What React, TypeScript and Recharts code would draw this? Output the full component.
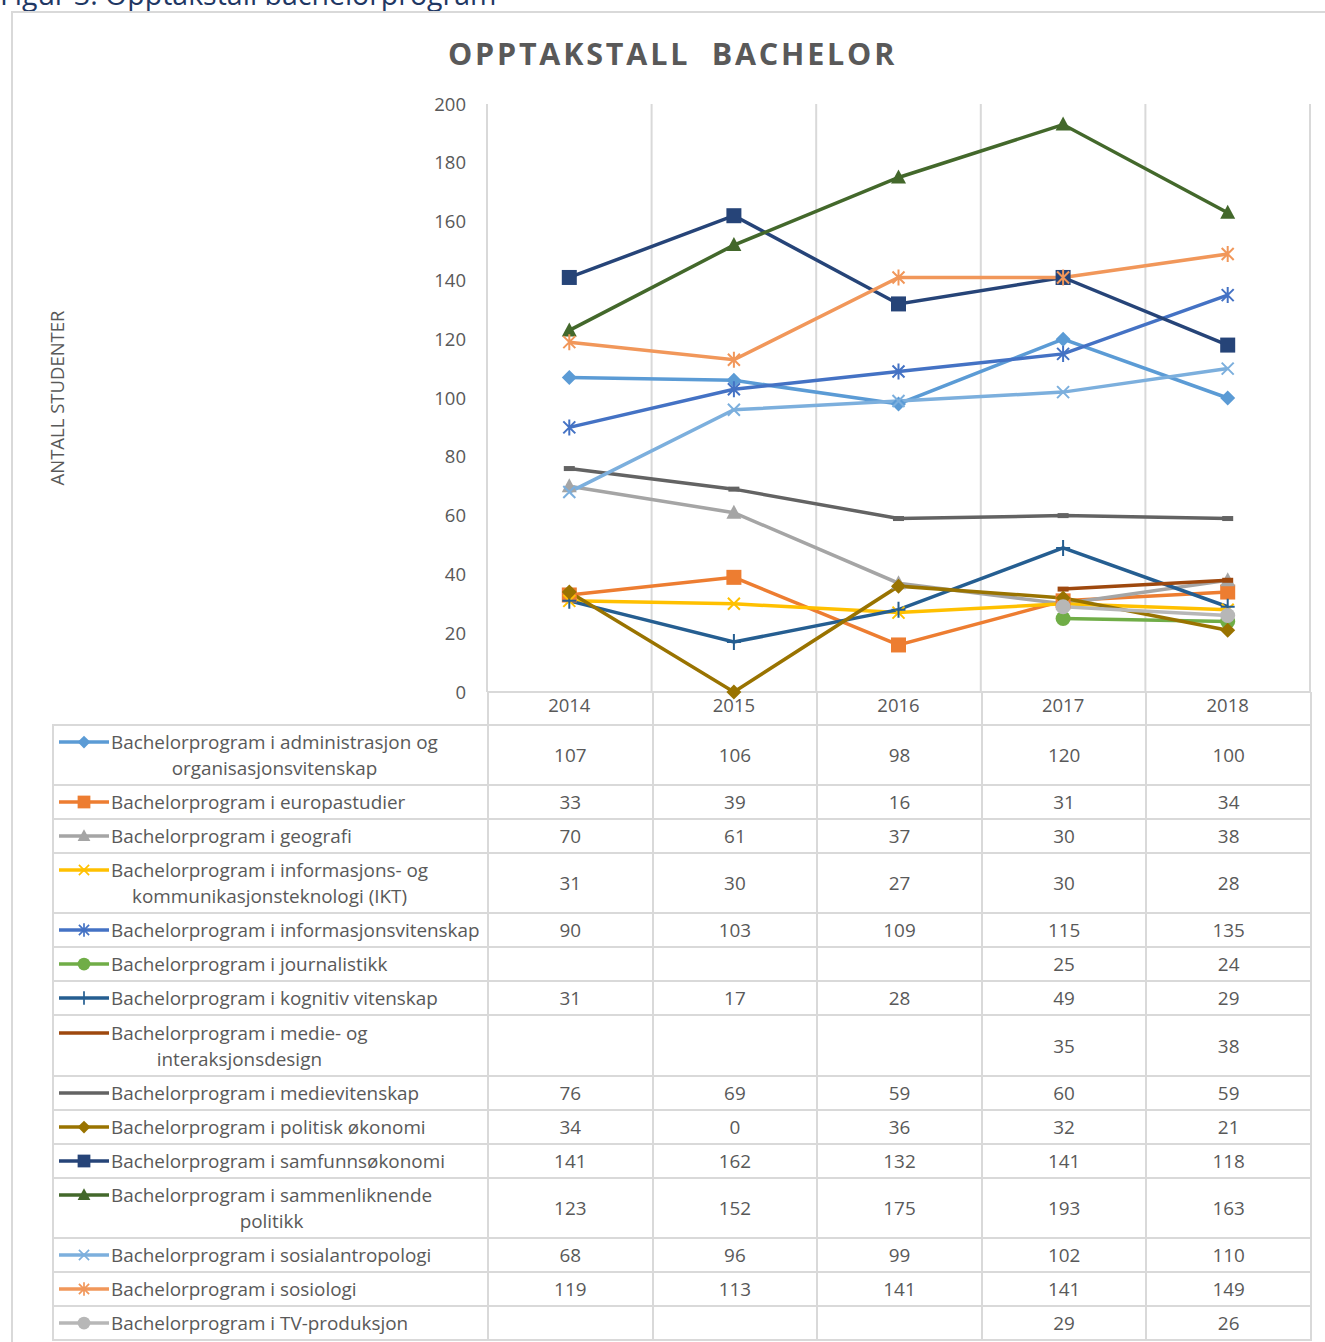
import React from 'react';
import { LineChart, Line, XAxis, YAxis, CartesianGrid } from 'recharts';

const years = ['2014', '2015', '2016', '2017', '2018'];

const programNames = [
  'Bachelorprogram i administrasjon og\norganisasjonsvitenskap',
  'Bachelorprogram i europastudier',
  'Bachelorprogram i geografi',
  'Bachelorprogram i informasjons- og\nkommunikasjonsteknologi (IKT)',
  'Bachelorprogram i informasjonsvitenskap',
  'Bachelorprogram i journalistikk',
  'Bachelorprogram i kognitiv vitenskap',
  'Bachelorprogram i medie- og\ninteraksjonsdesign',
  'Bachelorprogram i medievitenskap',
  'Bachelorprogram i politisk økonomi',
  'Bachelorprogram i samfunnsøkonomi',
  'Bachelorprogram i sammenliknende\npolitikk',
  'Bachelorprogram i sosialantropologi',
  'Bachelorprogram i sosiologi',
  'Bachelorprogram i TV-produksjon',
];

const administrasjon = [107, 106, 98, 120, 100];
const europastudier = [33, 39, 16, 31, 34];
const geografi = [70, 61, 37, 30, 38];
const ikt = [31, 30, 27, 30, 28];
const informasjonsvitenskap = [90, 103, 109, 115, 135];
const journalistikk = [null, null, null, 25, 24];
const kognitiv = [31, 17, 28, 49, 29];
const medieDesign = [null, null, null, 35, 38];
const medievitenskap = [76, 69, 59, 60, 59];
const politiskOkonomi = [34, 0, 36, 32, 21];
const samfunnsokonomi = [141, 162, 132, 141, 118];
const sammenliknende = [123, 152, 175, 193, 163];
const sosialantropologi = [68, 96, 99, 102, 110];
const sosiologi = [119, 113, 141, 141, 149];
const tvProduksjon = [null, null, null, 29, 26];

const yTicks = [0, 20, 40, 60, 80, 100, 120, 140, 160, 180, 200];

const seriesValues: (number | null)[][] = [
  administrasjon, europastudier, geografi, ikt, informasjonsvitenskap, journalistikk,
  kognitiv, medieDesign, medievitenskap, politiskOkonomi, samfunnsokonomi,
  sammenliknende, sosialantropologi, sosiologi, tvProduksjon,
];

// styles (kept separate from data)
const seriesStyles = [
  { color: '#5B9BD5', marker: 'diamond' },
  { color: '#ED7D31', marker: 'square' },
  { color: '#A5A5A5', marker: 'triangle' },
  { color: '#FFC000', marker: 'x' },
  { color: '#4472C4', marker: 'star' },
  { color: '#70AD47', marker: 'circle' },
  { color: '#255E91', marker: 'plus' },
  { color: '#9E480E', marker: 'dash' },
  { color: '#636363', marker: 'dash' },
  { color: '#997300', marker: 'diamond' },
  { color: '#264478', marker: 'square' },
  { color: '#43682B', marker: 'triangle' },
  { color: '#7CAFDD', marker: 'x' },
  { color: '#F1975A', marker: 'star' },
  { color: '#B7B7B7', marker: 'circle' },
];
const rowHeights = [60, 34, 34, 60, 34, 34, 34, 61, 34, 34, 34, 60, 34, 34, 34];

const data = years.map((year, i) => {
  const row: any = { year };
  seriesValues.forEach((vals, s) => {
    row['s' + s] = vals[i];
  });
  return row;
});

function Marker({ cx, cy, shape, color, k }: any) {
  if (cx == null || cy == null || isNaN(cx) || isNaN(cy)) return <g key={k} />;
  const h = k;
  switch (shape) {
    case 'diamond':
      return <path key={h} d={`M${cx},${cy - 7.5}L${cx + 7.5},${cy}L${cx},${cy + 7.5}L${cx - 7.5},${cy}Z`} fill={color} />;
    case 'square':
      return <rect key={h} x={cx - 7.5} y={cy - 7.5} width={15} height={15} fill={color} />;
    case 'triangle':
      return <path key={h} d={`M${cx},${cy - 8}L${cx + 7.5},${cy + 6}L${cx - 7.5},${cy + 6}Z`} fill={color} />;
    case 'x':
      return (
        <path key={h} d={`M${cx - 6},${cy - 6}L${cx + 6},${cy + 6}M${cx - 6},${cy + 6}L${cx + 6},${cy - 6}`} stroke={color} strokeWidth={2} fill="none" />
      );
    case 'star':
      return (
        <path key={h} d={`M${cx - 6},${cy - 6}L${cx + 6},${cy + 6}M${cx - 6},${cy + 6}L${cx + 6},${cy - 6}M${cx},${cy - 8}L${cx},${cy + 8}`} stroke={color} strokeWidth={2} fill="none" />
      );
    case 'circle':
      return <circle key={h} cx={cx} cy={cy} r={7.5} fill={color} />;
    case 'plus':
      return (
        <path key={h} d={`M${cx - 7},${cy}L${cx + 7},${cy}M${cx},${cy - 8}L${cx},${cy + 8}`} stroke={color} strokeWidth={2} fill="none" />
      );
    case 'dash':
      return <rect key={h} x={cx - 5.5} y={cy - 2.5} width={11} height={5} fill={color} />;
    default:
      return <g key={h} />;
  }
}

function LegendKey({ color, marker }: any) {
  return (
    <svg width={50} height={16} style={{ flex: '0 0 50px', display: 'block' }}>
      <line x1={0} y1={8} x2={50} y2={8} stroke={color} strokeWidth={3.5} />
      {marker !== 'dash' && (
        <g transform="translate(25,8) scale(0.85) translate(-25,-8)">
          <Marker cx={25} cy={8} shape={marker} color={color} k="m" />
        </g>
      )}
    </svg>
  );
}

const FONT = '"Open Sans", sans-serif';
const TEXT = '#595959';
const GRID = '#d9d9d9';

// vertical gridlines at the category column boundaries, from the chart's own plot offset
const columnGridGenerator = ({ offset }: any) =>
  Array.from({ length: years.length + 1 }, (_, b) => offset.left + (offset.width * b) / years.length);

export default function App() {
  return (
    <div style={{ position: 'absolute', left: 0, top: 0, width: 1325, height: 1342, overflow: 'hidden', background: '#fff', fontFamily: FONT }}>
      <div style={{ position: 'absolute', left: 0, top: -22, fontSize: 28.5, color: '#1F3864', fontFamily: FONT, whiteSpace: 'nowrap', lineHeight: '32px' }}>
        Figur 3: Opptakstall bachelorprogram
      </div>
      <div style={{ position: 'absolute', left: 11, top: 11, width: 1340, height: 1360, border: `2px solid ${GRID}` }} />
      <div style={{ position: 'absolute', left: 0, width: 1345, top: 32, textAlign: 'center', fontSize: 30.5, fontWeight: 700, letterSpacing: 2.8, color: TEXT, whiteSpace: 'pre', lineHeight: '42px' }}>
        {'OPPTAKSTALL  BACHELOR'}
      </div>
      <div style={{ position: 'absolute', left: 56, top: 398, width: 0, height: 0 }}>
        <div style={{ position: 'absolute', transform: 'translate(-50%,-50%) rotate(-90deg)', fontSize: 18.5, color: TEXT, whiteSpace: 'nowrap' }}>
          ANTALL STUDENTER
        </div>
      </div>

      <div style={{ position: 'absolute', left: 0, top: 0 }}>
        <LineChart width={1325} height={725} data={data} margin={{ top: 104, left: 427, right: 15, bottom: 0 }}>
          <CartesianGrid horizontal={false} vertical stroke={GRID} strokeWidth={2} verticalCoordinatesGenerator={columnGridGenerator} />
          <XAxis
            dataKey="year"
            height={33}
            padding={{ left: 82.3, right: 82.3 }}
            axisLine={{ stroke: GRID, strokeWidth: 2 }}
            tickLine={false}
            tickSize={0}
            tickMargin={7}
            tick={{ fontSize: 18.5, fill: TEXT, fontFamily: FONT }}
          />
          <YAxis
            width={60}
            domain={[0, 200]}
            ticks={yTicks}
            axisLine={{ stroke: GRID, strokeWidth: 2 }}
            tickLine={false}
            tickSize={0}
            tickMargin={21}
            tick={{ fontSize: 18.5, fill: TEXT, fontFamily: FONT }}
          />
          {seriesStyles.map((st, s) => (
            <Line
              key={s}
              dataKey={'s' + s}
              name={programNames[s]}
              stroke={st.color}
              strokeWidth={3.5}
              isAnimationActive={false}
              connectNulls={false}
              dot={(p: any) => <Marker key={'d' + s + '-' + p.index} k={'d' + s + '-' + p.index} cx={p.cx} cy={p.cy} shape={st.marker} color={st.color} />}
              activeDot={false}
            />
          ))}
        </LineChart>
      </div>

      <table
        style={{
          position: 'absolute', left: 52, top: 692, borderCollapse: 'collapse', tableLayout: 'fixed',
          width: 1258, fontFamily: FONT, fontSize: 18.9, color: TEXT,
        }}
      >
        <colgroup>
          <col style={{ width: 435 }} />
          {years.map((y) => <col key={y} style={{ width: 164.6 }} />)}
        </colgroup>
        <tbody>
          <tr style={{ height: 33 }}>
            <td style={{ border: 'none', padding: 0 }} />
            {years.map((y) => (
              <td key={y} style={{ borderLeft: `2px solid ${GRID}`, borderRight: `2px solid ${GRID}`, padding: 0 }} />
            ))}
          </tr>
          {programNames.map((name, s) => (
            <tr key={s} style={{ height: rowHeights[s] }}>
              <td style={{ border: `2px solid ${GRID}`, padding: '0 0 0 5px', verticalAlign: 'middle' }}>
                <div style={{ display: 'flex', alignItems: 'flex-start' }}>
                  <div style={{ paddingTop: 5 }}>
                    <LegendKey color={seriesStyles[s].color} marker={seriesStyles[s].marker} />
                  </div>
                  <div style={{ marginLeft: 2, whiteSpace: 'pre-line', textAlign: 'center', lineHeight: '26px' }}>{name}</div>
                </div>
              </td>
              {seriesValues[s].map((v, i) => (
                <td key={i} style={{ border: `2px solid ${GRID}`, textAlign: 'center', verticalAlign: 'middle', padding: 0 }}>
                  {v == null ? '' : v}
                </td>
              ))}
            </tr>
          ))}
        </tbody>
      </table>
    </div>
  );
}
